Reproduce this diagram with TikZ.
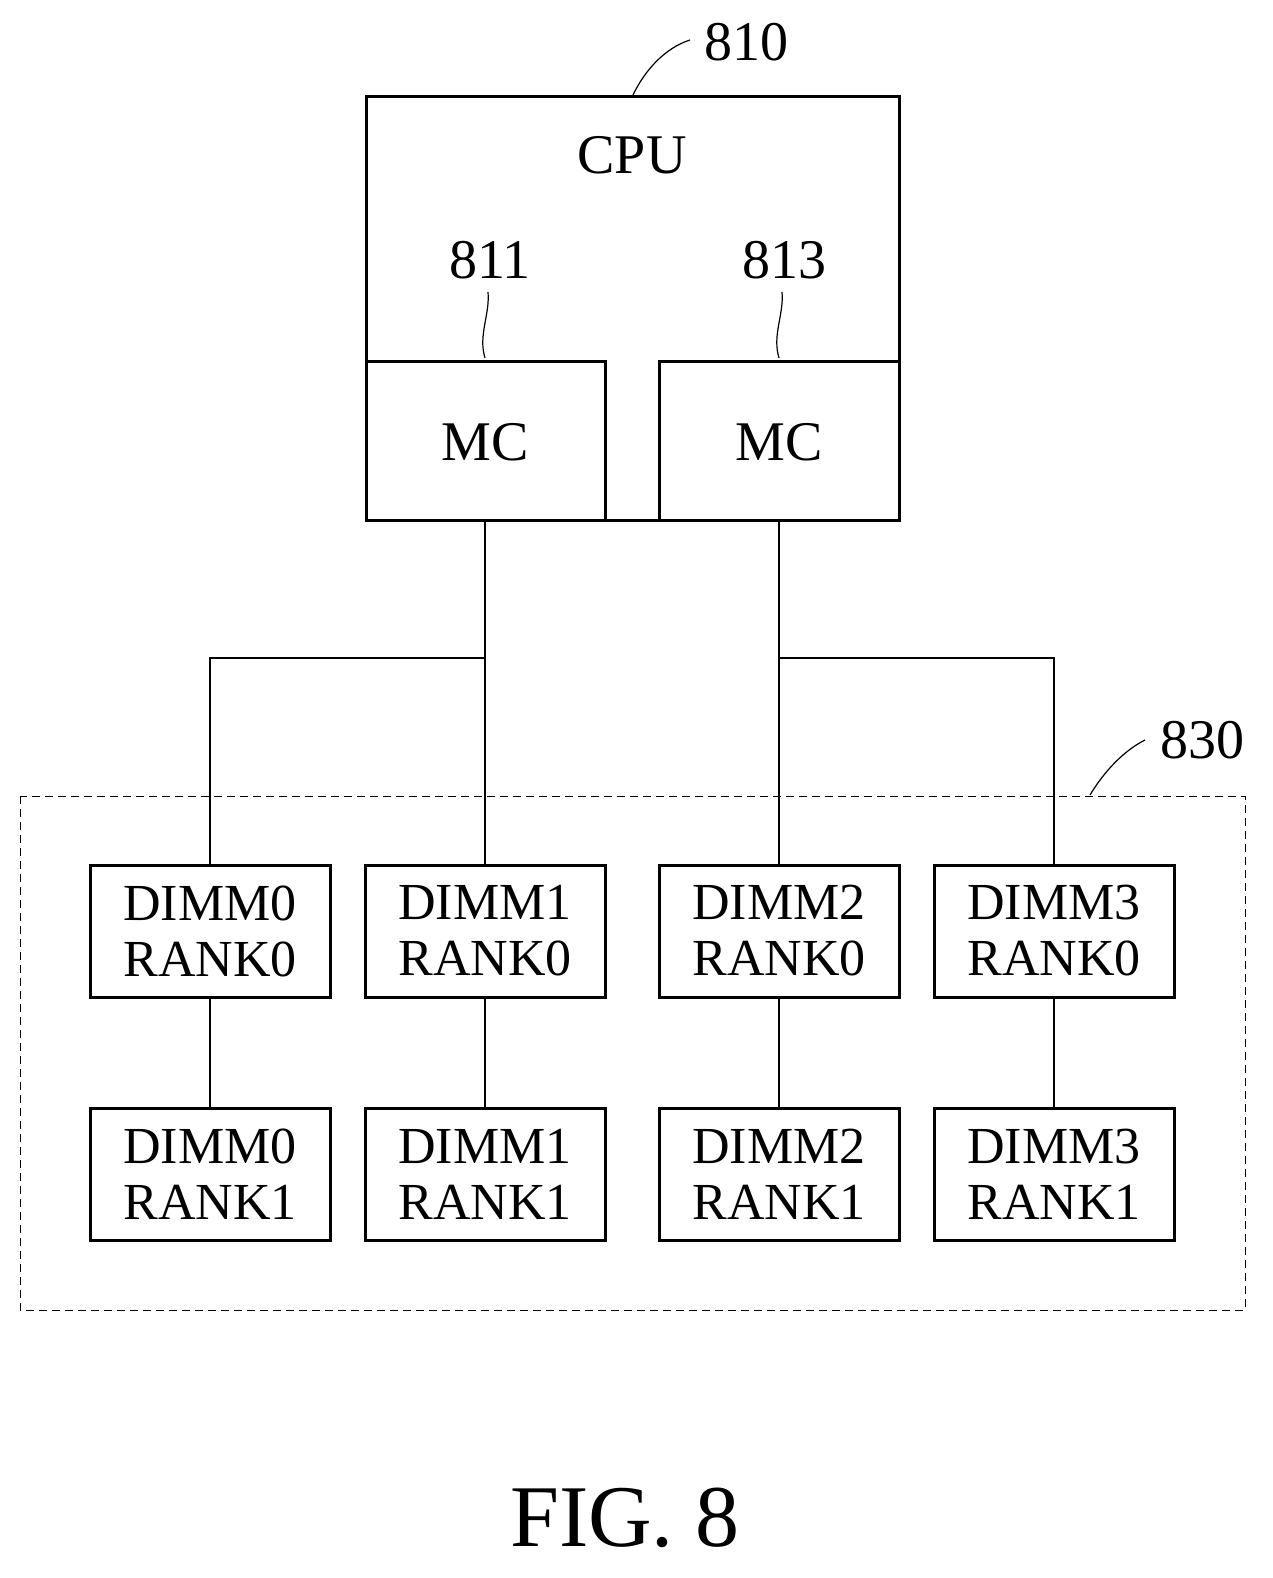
\documentclass[tikz,border=0pt]{standalone}
\usepackage{fontspec}
\setmainfont{Liberation Serif}
\begin{document}
\begin{tikzpicture}[x=1pt,y=-1pt,
  box/.style={draw,line width=3pt},
  dimm/.style={draw,line width=3pt,minimum width=240pt,minimum height=132pt,align=center,font=\fontsize{52}{56}\selectfont,inner sep=0pt},
  lbl/.style={font=\fontsize{56}{60}\selectfont},
  wire/.style={line width=1.5pt},
  lead/.style={line width=1.2pt}]
\useasboundingbox (0,0) rectangle (1273,1578);
\draw[box] (366,97) rectangle (899,520);
\node[lbl] (cpu) at (632,155) {CPU};
\draw[box] (366,361) rectangle (605,520);
\draw[box] (659,361) rectangle (899,520);
\node[lbl] (mc1) at (485,442) {MC};
\node[lbl] (mc2) at (779,442) {MC};
\coordinate (mc1b) at (485,520);
\coordinate (mc2b) at (779,520);
\node[lbl] (l810) at (746,42) {810};
\node[lbl] (l811) at (490,260) {811};
\node[lbl] (l813) at (784,260) {813};
\node[lbl] (l830) at (1202,740) {830};
\draw[lead] (633,95) .. controls (645,70) and (665,48) .. (690,40);
\draw[lead] (485,358) .. controls (478,335) and (490,315) .. (488,292);
\draw[lead] (779,358) .. controls (772,335) and (784,315) .. (782,292);
\draw[lead] (1090,795) .. controls (1105,770) and (1125,750) .. (1145,740);
\draw[dashed,line width=1pt,dash pattern=on 8pt off 5pt] (20,796) rectangle (1245,1310);
\foreach \i/\x in {0/210,1/485,2/779,3/1054}{
  \node[dimm] (a\i) at (\x,931) {DIMM\i\\RANK0};
  \node[dimm] (b\i) at (\x,1174) {DIMM\i\\RANK1};
  \draw[wire] (a\i) -- (b\i);
}
\draw[wire] (mc1b) -- (a1);
\draw[wire] (mc2b) -- (a2);
\draw[wire] (485,658) -| (a0);
\draw[wire] (779,658) -| (a3);
\node[font=\fontsize{88}{92}\selectfont] (fig) at (625,1518) {FIG. 8};
\end{tikzpicture}
\end{document}
